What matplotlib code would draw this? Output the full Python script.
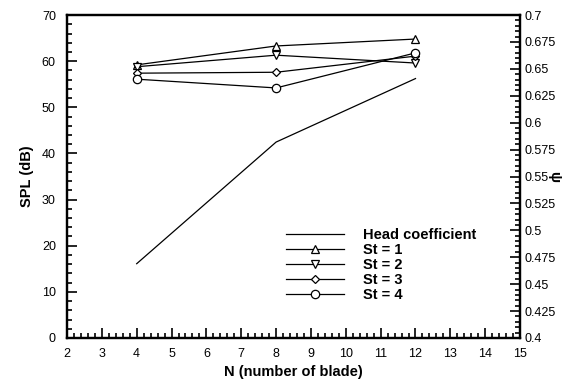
import numpy as np
import matplotlib.pyplot as plt
from matplotlib.ticker import MultipleLocator

plt.rcParams['font.family'] = ['Liberation Sans', 'DejaVu Sans']

# data
blades = [4, 8, 12]
head_coef = [0.469, 0.582, 0.641]
spl_st1 = [59.2, 63.3, 64.8]
spl_st2 = [58.8, 61.3, 59.6]
spl_st3 = [57.4, 57.6, 61.1]
spl_st4 = [56.1, 54.2, 61.8]

fig = plt.figure(figsize=(5.74, 3.86), dpi=100)
ax = fig.add_axes([0.1167, 0.1244, 0.7893, 0.8366])
ax2 = ax.twinx()

mk = dict(color='black', lw=0.9, mfc='white', mec='black', mew=0.9)
h0, = ax2.plot(blades, head_coef, color='black', lw=0.9, label='Head coefficient')
h1, = ax.plot(blades, spl_st1, marker='^', ms=5.5, label='St = 1', **mk)
h2, = ax.plot(blades, spl_st2, marker='v', ms=5.5, label='St = 2', **mk)
h3, = ax.plot(blades, spl_st3, marker='D', ms=4.2, label='St = 3', **mk)
h4, = ax.plot(blades, spl_st4, marker='o', ms=6, label='St = 4', **mk)

ax.set_xlim(2, 15)
ax.set_ylim(0, 70)
ax2.set_ylim(0.4, 0.7)

ax.xaxis.set_major_locator(MultipleLocator(1))
ax.xaxis.set_minor_locator(MultipleLocator(0.2))
ax.yaxis.set_major_locator(MultipleLocator(10))
ax.yaxis.set_minor_locator(MultipleLocator(2))
ax2.yaxis.set_minor_locator(MultipleLocator(0.005))
ax2.set_yticks(np.arange(0.4, 0.7001, 0.025))
ax2.set_yticklabels(['0.4', '0.425', '0.45', '0.475', '0.5', '0.525', '0.55',
                     '0.575', '0.6', '0.625', '0.65', '0.675', '0.7'])

ax.tick_params(which='both', direction='in', labelsize=9, width=1.2, top=False)
ax.tick_params(axis='y', which='major', length=7, pad=8)
ax.tick_params(axis='x', which='major', length=7, pad=7)
ax.tick_params(which='minor', length=3.5)
ax2.tick_params(which='both', direction='in', labelsize=9, width=1.2)
ax2.tick_params(which='major', length=7, pad=3)
ax2.tick_params(which='minor', length=3.5)

for a in (ax, ax2):
    for s in a.spines.values():
        s.set_linewidth(1.6)

ax.set_xlabel('N (number of blade)', fontsize=10.5, fontweight='bold', labelpad=4)
ax.set_ylabel('SPL (dB)', fontsize=10.5, fontweight='bold', labelpad=6)
ax2.set_ylabel('ψ', fontsize=10.5, fontweight='bold', rotation=270, labelpad=4)

leg = ax.legend(handles=[h0, h1, h2, h3, h4], loc='lower left',
                bbox_to_anchor=(0.46, 0.08), frameon=False, numpoints=1,
                handlelength=4.0, handletextpad=1.3, labelspacing=0.07,
                borderpad=0.2, prop={'weight': 'bold', 'size': 10.5})

fig.savefig('out.png', dpi=100)
